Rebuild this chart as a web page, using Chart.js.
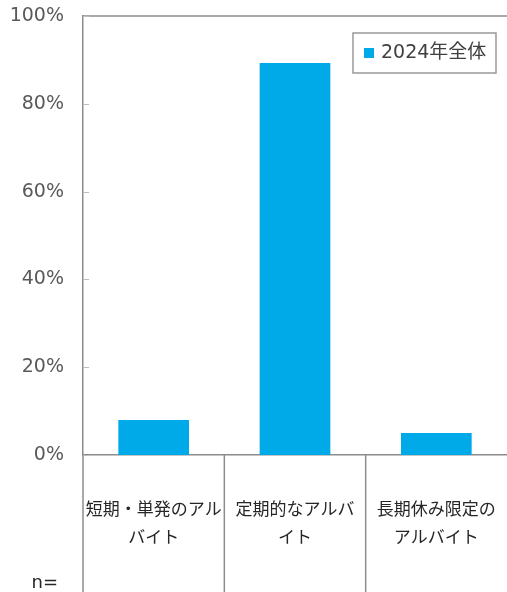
<!DOCTYPE html>
<html lang="ja">
<head>
<meta charset="UTF-8">
<title>アルバイトの種類</title>
<script src="https://cdn.jsdelivr.net/npm/chart.js"></script>
<style>
    html, body { margin: 0; padding: 0; background: #fff; }
    #wrap { width: 507px; height: 592px; }
</style>
</head>
<body>
<div id="wrap"><canvas id="chart"></canvas></div>
<script>
    // data
    const categories = [
        ['短期・単発のアル', 'バイト'],
        ['定期的なアルバ', 'イト'],
        ['長期休み限定の', 'アルバイト']
    ];
    const seriesName = '2024年全体';
    const values = [8.0, 89.3, 5.0];
    const yTicks = [0, 20, 40, 60, 80, 100];

    const barColor = '#00AAE8';
    const lineColor = '#8c8c8c';
    const jpFont = '"DejaVu Sans", "Noto Sans CJK JP", sans-serif';

    // extras: inner ticks, top border, divider lines under axis, labels, legend box
    const extras = {
        id: 'extras',
        afterDraw(chart) {
            const ctx = chart.ctx;
            const area = chart.chartArea;
            const x = chart.scales.x;
            const y = chart.scales.y;
            const h = chart.height;
            ctx.save();

            // top border
            ctx.strokeStyle = lineColor;
            ctx.lineWidth = 1.5;
            ctx.beginPath();
            ctx.moveTo(area.left, area.top);
            ctx.lineTo(area.right, area.top);
            ctx.stroke();

            // y axis going down to the bottom
            ctx.beginPath();
            ctx.moveTo(area.left, area.bottom);
            ctx.lineTo(area.left, h);
            ctx.stroke();

            // small ticks inside
            ctx.strokeStyle = '#bdbdbd';
            ctx.lineWidth = 1;
            yTicks.forEach(v => {
                const py = Math.round(y.getPixelForValue(v)) + 0.5;
                ctx.beginPath();
                ctx.moveTo(area.left, py);
                ctx.lineTo(area.left + 6, py);
                ctx.stroke();
            });

            // category dividers
            ctx.strokeStyle = lineColor;
            ctx.lineWidth = 1.5;
            const half = (x.getPixelForValue(1) - x.getPixelForValue(0)) / 2;
            for (let i = 1; i < categories.length; i++) {
                const px = x.getPixelForValue(i) - half;
                ctx.beginPath();
                ctx.moveTo(px, area.bottom);
                ctx.lineTo(px, h);
                ctx.stroke();
            }

            // category labels
            ctx.fillStyle = '#262626';
            ctx.font = '17px ' + jpFont;
            ctx.textAlign = 'center';
            ctx.textBaseline = 'middle';
            categories.forEach((lines, i) => {
                const cx = x.getPixelForValue(i);
                lines.forEach((t, j) => ctx.fillText(t, cx, 511 + j * 28));
            });

            // n=
            ctx.font = '18px "DejaVu Sans", sans-serif';
            ctx.textAlign = 'right';
            ctx.fillText('n=', 58, 583);

            // legend
            const lx = 353, ly = 33, lw = 143, lh = 40;
            ctx.fillStyle = '#fff';
            ctx.fillRect(lx, ly, lw, lh);
            ctx.strokeStyle = '#999';
            ctx.lineWidth = 1.5;
            ctx.strokeRect(lx, ly, lw, lh);
            ctx.fillStyle = barColor;
            ctx.fillRect(lx + 11, ly + 15, 10, 10);
            ctx.fillStyle = '#404040';
            ctx.textAlign = 'left';
            ctx.font = '19px ' + jpFont;
            ctx.fillText(seriesName, lx + 28, ly + 20);

            ctx.restore();
        }
    };

    new Chart(document.getElementById('chart').getContext('2d'), {
        type: 'bar',
        data: {
            labels: categories,
            datasets: [{
                label: seriesName,
                data: values,
                backgroundColor: barColor,
                borderWidth: 0,
                barPercentage: 0.5,
                categoryPercentage: 1
            }]
        },
        options: {
            responsive: true,
            maintainAspectRatio: false,
            animation: false,
            layout: { padding: { top: 16, right: 0, bottom: 0, left: 0 } },
            plugins: {
                legend: { display: false },
                tooltip: { enabled: false }
            },
            scales: {
                x: {
                    grid: { display: false },
                    ticks: { display: false },
                    border: { display: true, color: lineColor, width: 1.5 },
                    afterFit(scale) { scale.height = 137; }
                },
                y: {
                    min: 0,
                    max: 100,
                    afterBuildTicks(scale) { scale.ticks = yTicks.map(v => ({ value: v })); },
                    grid: { display: false, drawTicks: false },
                    border: { display: true, color: lineColor, width: 1.5 },
                    ticks: {
                        padding: 19,
                        color: '#595959',
                        font: { family: '"DejaVu Sans", Verdana, sans-serif', size: 19 },
                        callback: v => v + '%'
                    },
                    afterFit(scale) {
                        scale.width = 83;
                        scale.paddingTop = 0;
                        scale.paddingBottom = 0;
                    }
                }
            }
        },
        plugins: [extras]
    });
</script>
</body>
</html>
